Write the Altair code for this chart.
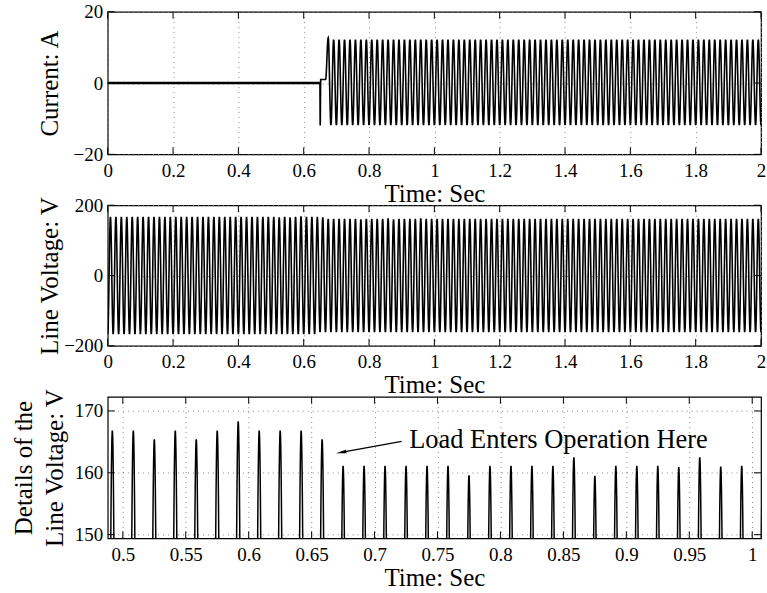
import numpy as np
import pandas as pd
import altair as alt

# ---- signal description -------------------------------------------------
LINE_HZ = 60.0                 # supply frequency
HALF = 0.5 / LINE_HZ           # half period (s)
T_END = 2.0

# tick values
time_ticks = [0, 0.2, 0.4, 0.6, 0.8, 1.0, 1.2, 1.4, 1.6, 1.8, 2.0]
detail_ticks = [0.5, 0.55, 0.6, 0.65, 0.7, 0.75, 0.8, 0.85, 0.9, 0.95, 1.0]
current_ticks = [-20, 0, 20]
voltage_ticks = [-200, 0, 200]
detail_v_ticks = [150, 160, 170]

# line-voltage crest (V) of each cycle from cycle 29 (crest at 29.5/60 s) to cycle 59
detail_first_cycle = 29
detail_crests = [166.8, 166.8, 165.4, 166.8, 165.4, 166.8, 168.3, 166.8, 166.8, 166.8,
                 165.4, 161.1, 161.1, 161.1, 161.1, 161.1, 161.1, 159.6, 161.1, 161.1,
                 161.1, 161.1, 162.5, 159.5, 161.1, 161.1, 161.1, 160.9, 162.5, 161.0,
                 161.1]
crest_before_load = 166.8
crest_after_load = 161.1
load_onset = 0.65

# load current (A)
current_crest = 12.2
current_trough = -11.8
onset_times = [0.0, 0.6495, 0.6505, 0.652, 0.667, 0.675]
onset_values = [0.0, 0.0, -11.9, 1.0, 1.0, 12.7]

# annotation
note_text = "Load Enters Operation Here"
note_t, note_v = 0.7275, 165.3
arrow_tail = (0.7215, 165.1)
arrow_tip = (0.6734, 163.3)


def smooth_wave(knot_t, knot_v, n):
    """Half-cosine interpolation between successive extrema."""
    ts, vs = [], []
    s = np.linspace(0.0, 1.0, n, endpoint=False)
    w = (1.0 - np.cos(np.pi * s)) / 2.0
    for i in range(len(knot_t) - 1):
        ts.append(knot_t[i] + (knot_t[i + 1] - knot_t[i]) * s)
        vs.append(knot_v[i] + (knot_v[i + 1] - knot_v[i]) * w)
    ts.append([knot_t[-1]])
    vs.append([knot_v[-1]])
    return np.round(np.concatenate(ts), 6), np.round(np.concatenate(vs), 3)


def voltage_knots(j0, j1):
    kt, kv = [], []
    for j in range(j0, j1 + 1):
        t = j * HALF
        if j % 2 == 0:
            v = -(crest_before_load if t < load_onset else crest_after_load)
        else:
            m = (j - 1) // 2
            k = m - detail_first_cycle
            if 0 <= k < len(detail_crests):
                v = detail_crests[k]
            else:
                v = crest_before_load if t < load_onset else crest_after_load
        kt.append(t)
        kv.append(v)
    return kt, kv


n_half = int(round(T_END / HALF))

# current waveform
cur_t = list(onset_times)
cur_v = list(onset_values)
j_start = int(round(onset_times[-1] / HALF)) + 1
for j in range(j_start, n_half + 1):
    cur_t.append(j * HALF)
    cur_v.append(current_crest if j % 2 == 1 else current_trough)
ct, cv = smooth_wave(cur_t, cur_v, 16)
current_df = pd.DataFrame({"t": ct, "v": cv})
idle_df = current_df[current_df["t"] <= onset_times[1]]

# full line voltage
vt, vv = smooth_wave(*voltage_knots(0, n_half), 16)
voltage_df = pd.DataFrame({"t": vt, "v": vv})

# zoomed line voltage
dt, dv = smooth_wave(*voltage_knots(57, 122), 90)
detail_df = pd.DataFrame({"t": dt, "v": dv})

# ---- drawing ------------------------------------------------------------
W = 655
FONT = "Liberation Serif"
TICK = 7


def x_axis(values):
    return alt.Axis(values=values, format="~g", title="Time: Sec", grid=True,
                    labelBaseline="alphabetic", labelPadding=22,
                    titleY=47, titleBaseline="alphabetic",
                    labelFlush=False, labelOverlap=False)


def y_axis(values, title, title_x):
    return alt.Axis(values=values, title=title, grid=True,
                    labelPadding=5, titleX=title_x, titleBaseline="alphabetic",
                    titleLineHeight=31, labelFlush=False, labelOverlap=False)


def panel(df, xs, ys, xvals, yvals, ytitle, h, title_x=-50, stroke=1.6, extra=None):
    xa = x_axis(xvals)
    ya = y_axis(yvals, ytitle, title_x)

    def X(field):
        return alt.X(field, type="quantitative", scale=xs, axis=xa)

    def Y(field):
        return alt.Y(field, type="quantitative", scale=ys, axis=ya)

    layers = [
        alt.Chart(df).mark_line(color="black", strokeWidth=stroke, clip=True).encode(
            x=X("t"), y=Y("v"), order="t:Q")
    ]
    # inward ticks on all four sides of the box
    xdf = pd.DataFrame({"t": xvals})
    ydf = pd.DataFrame({"v": yvals})
    rx = alt.Chart(xdf).mark_rule(color="black", strokeWidth=1)
    ry = alt.Chart(ydf).mark_rule(color="black", strokeWidth=1)
    layers += [
        rx.encode(x=X("t"), y=alt.value(0), y2=alt.value(TICK)),
        rx.encode(x=X("t"), y=alt.value(h - TICK), y2=alt.value(h)),
        ry.encode(y=Y("v"), x=alt.value(0), x2=alt.value(TICK)),
        ry.encode(y=Y("v"), x=alt.value(W - TICK), x2=alt.value(W)),
    ]
    if extra is not None:
        layers += extra(X, Y)
    return alt.layer(*layers).properties(width=W, height=h)


def idle_trace(X, Y):
    # the no-load stretch of the current trace is drawn heavier
    return [alt.Chart(idle_df).mark_line(color="black", strokeWidth=2.6, clip=True).encode(
        x=X("t"), y=Y("v"), order="t:Q")]


def annotation(X, Y):
    note_df = pd.DataFrame({"t": [note_t], "v": [note_v], "label": [note_text]})
    note = alt.Chart(note_df).mark_text(
        align="left", baseline="middle", font=FONT, fontSize=26.5, color="black"
    ).encode(x=X("t"), y=Y("v"), text="label:N")
    arrow_df = pd.DataFrame({"t": [arrow_tail[0]], "v": [arrow_tail[1]],
                             "t2": [arrow_tip[0]], "v2": [arrow_tip[1]]})
    arrow_line = alt.Chart(arrow_df).mark_rule(color="black", strokeWidth=1.3).encode(
        x=X("t"), x2="t2:Q", y=Y("v"), y2="v2:Q")
    head_df = pd.DataFrame({"t": [arrow_tip[0]], "v": [arrow_tip[1]]})
    arrow_head = alt.Chart(head_df).mark_point(
        shape="M0,-1L0.35,1L-0.35,1Z", filled=True, color="black", opacity=1,
        size=110, angle=260
    ).encode(x=X("t"), y=Y("v"))
    return [note, arrow_line, arrow_head]


time_scale = alt.Scale(domain=[0, 2], nice=False, zero=False)
detail_scale = alt.Scale(domain=[0.488, 1.007], nice=False, zero=False)
detail_y = alt.Scale(domain=[149.4, 172.3], nice=False, zero=False)

p1 = panel(current_df, time_scale, alt.Scale(domain=[-20, 20], nice=False),
           time_ticks, current_ticks, "Current: A", 143, extra=idle_trace)
p2 = panel(voltage_df, time_scale, alt.Scale(domain=[-200, 200], nice=False),
           time_ticks, voltage_ticks, "Line Voltage: V", 141)
p3 = panel(detail_df, detail_scale, detail_y, detail_ticks, detail_v_ticks,
           ["Details of the", "Line Voltage: V"], 142, title_x=-76, stroke=1.5,
           extra=annotation)

chart = alt.vconcat(p1, p2, p3, spacing=51, bounds="flush").properties(
    padding={"left": 11, "top": 1, "right": 0, "bottom": 0}
).configure(font=FONT, background="white").configure_view(
    stroke="black", strokeWidth=1.2
).configure_axis(
    labelFont=FONT, labelFontSize=19, labelColor="black",
    titleFont=FONT, titleFontSize=25, titleFontWeight="normal", titleColor="black",
    domain=False, ticks=False, tickSize=0,
    gridColor="#888888", gridDash=[1, 4], gridWidth=1, gridOpacity=1,
)

chart.save("out.html", embed_options={"renderer": "svg", "actions": False})
